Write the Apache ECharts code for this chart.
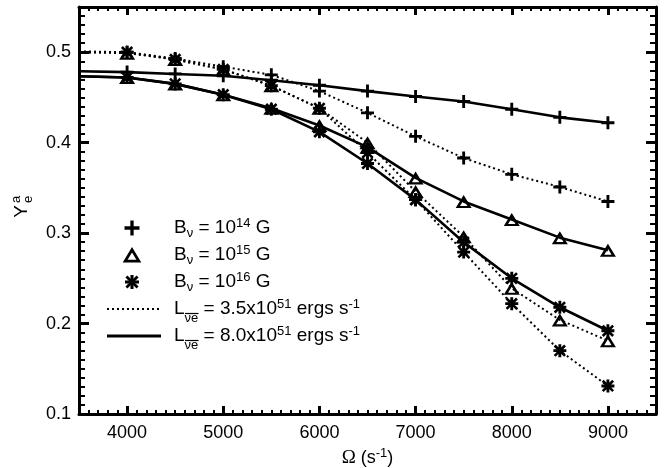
<!DOCTYPE html>
<html>
<head>
<meta charset="utf-8">
<script src="https://cdn.jsdelivr.net/npm/echarts@6/dist/echarts.min.js"></script>
<style>
  html, body { margin: 0; padding: 0; background: #fff; }
  #chart { width: 665px; height: 468px; }
</style>
</head>
<body>
<div id="chart"></div>
<script>
// Rotation rate Omega (s^-1); the first entry only anchors the line at the frame edge
const omega = [3500, 4000, 4500, 5000, 5500, 6000, 6500, 7000, 7500, 8000, 8500, 9000];

// Asymptotic electron fraction, L = 3.5e51 erg/s (dotted)
const plusLowL = [0.501, 0.500, 0.493, 0.484, 0.475, 0.457, 0.433, 0.407, 0.383, 0.365, 0.351, 0.335];
const triLowL  = [0.500, 0.499, 0.492, 0.481, 0.463, 0.438, 0.400, 0.346, 0.296, 0.239, 0.204, 0.181];
const astLowL  = [0.500, 0.500, 0.492, 0.481, 0.463, 0.438, 0.389, 0.337, 0.279, 0.222, 0.170, 0.131];

// Asymptotic electron fraction, L = 8.0e51 erg/s (solid)
const plusHighL = [0.479, 0.478, 0.476, 0.474, 0.469, 0.4635, 0.457, 0.451, 0.4455, 0.437, 0.428, 0.422];
const triHighL  = [0.4735, 0.472, 0.465, 0.453, 0.438, 0.419, 0.395, 0.361, 0.335, 0.315, 0.295, 0.281];
const astHighL  = [0.4735, 0.472, 0.465, 0.453, 0.437, 0.412, 0.377, 0.337, 0.290, 0.250, 0.218, 0.192];

const FONT = 'Liberation Sans, Arial, Helvetica, sans-serif';

// Marker outlines (unit box 0..100)
const PLUS_PATH = 'M39,0 L61,0 L61,39 L100,39 L100,61 L61,61 L61,100 L39,100 L39,61 L0,61 L0,39 L39,39 Z';
const TRI_PATH = 'M50,0 L100,100 L0,100 Z M50,38 L27,84 L73,84 Z';
const AST_PATH =
  'M0,39 L100,39 L100,61 L0,61 Z ' +
  'M61,0 L61,100 L39,100 L39,0 Z ' +
  'M17.1,3.0 L97.0,82.9 L82.9,97.0 L3.0,17.1 Z ' +
  'M97.0,17.1 L17.1,97.0 L3.0,82.9 L82.9,3.0 Z';

function pts(ys) {
  return omega.map((x, i) => i === 0 ? { value: [x, ys[i]], symbol: 'none' } : [x, ys[i]]);
}

function lineSeries(ys, path, size, dotted) {
  return {
    type: 'line',
    xAxisIndex: 0,
    yAxisIndex: 0,
    data: pts(ys),
    symbol: 'path://' + path,
    symbolSize: size,
    showSymbol: true,
    silent: true,
    itemStyle: { color: '#000' },
    lineStyle: dotted
      ? { color: '#000', width: 2, type: [2, 3] }
      : { color: '#000', width: 2.6, type: 'solid' },
    emphasis: { disabled: true }
  };
}

const black = '#000';
const plotRect = { left: 79, top: 7, width: 577, height: 407, outerBoundsMode: 'none' };

// Grid 0 carries the frame, major ticks and labels; grid 1 (same box) carries the minor ticks
function xMajor(pos, labels) {
  return {
    type: 'value', gridIndex: 0, position: pos, min: 3500, max: 9500,
    splitNumber: 6, minInterval: 1000, maxInterval: 1000,
    axisLine: { show: true, onZero: false, lineStyle: { color: black, width: 3 } },
    axisTick: { show: true, inside: true, length: 8, lineStyle: { color: black, width: 3 } },
    axisLabel: labels
      ? { show: true, margin: 10, fontSize: 18, fontFamily: FONT, color: black,
          formatter: v => (Math.round(v) % 1000 === 0 ? String(Math.round(v)) : '') }
      : { show: false },
    splitLine: { show: false }
  };
}
function xMinor(pos) {
  return {
    type: 'value', gridIndex: 1, position: pos, min: 3500, max: 9500, interval: 100,
    axisLine: { show: false, onZero: false },
    axisTick: { show: true, inside: true, length: 4, lineStyle: { color: black, width: 2 } },
    axisLabel: { show: false },
    splitLine: { show: false }
  };
}
function yMajor(pos, labels) {
  return {
    type: 'value', gridIndex: 0, position: pos, min: 0.1, max: 0.55, interval: 0.1,
    axisLine: { show: true, onZero: false, lineStyle: { color: black, width: 3 } },
    axisTick: { show: true, inside: true, length: 10, lineStyle: { color: black, width: 3 } },
    axisLabel: labels
      ? { show: true, margin: 8, fontSize: 18, fontFamily: FONT, color: black,
          formatter: v => (Math.abs(v * 10 - Math.round(v * 10)) < 1e-6 ? String(+v.toFixed(1)) : '') }
      : { show: false },
    splitLine: { show: false }
  };
}
function yMinor(pos) {
  return {
    type: 'value', gridIndex: 1, position: pos, min: 0.1, max: 0.55, interval: 0.01,
    axisLine: { show: false, onZero: false },
    axisTick: { show: true, inside: true, length: 6, lineStyle: { color: black, width: 2 } },
    axisLabel: { show: false },
    splitLine: { show: false }
  };
}

const xMain = xMajor('bottom', true);
xMain.name = '{o|Ω}{t| (s}{sup|-1}{t|)}';
xMain.nameLocation = 'middle';
xMain.nameGap = 18;
xMain.nameTextStyle = {
  rich: {
    o: { fontFamily: 'Liberation Serif, serif', fontSize: 19, color: black, lineHeight: 20 },
    t: { fontFamily: FONT, fontSize: 18, color: black, lineHeight: 20 },
    sup: { fontFamily: FONT, fontSize: 13, color: black, lineHeight: 13, padding: [0, 0, 10, 0] }
  }
};

// Rich text styles for the key
const keyRich = {
  b: { fontFamily: FONT, fontSize: 19, lineHeight: 20, fill: black },
  sup: { fontFamily: FONT, fontSize: 13, lineHeight: 13, padding: [0, 0, 10, 0], fill: black },
  sub: { fontFamily: FONT, fontSize: 13, lineHeight: 13, padding: [10, 0, 0, 0], fill: black },
  subL: { fontFamily: FONT, fontSize: 13, lineHeight: 13, padding: [19, 0, 0, 0], fill: black }
};

const keyX = 132, keyTextX = 174;
const rowY = [228, 255, 282, 309, 336];

function keyText(y, text) {
  return { type: 'text', x: keyTextX, y: y, silent: true,
           style: { text: text, rich: keyRich, align: 'left', verticalAlign: 'middle' } };
}

// Turn an M/L/Z outline into filled polygons placed in a w x h box centred on (cx, cy)
function keyShape(path, cx, cy, w, h) {
  const rings = path.split('M').filter(s => s.trim()).map(s =>
    s.replace(/Z/g, '').trim().split(/\s*L\s*/).map(p => {
      const [px, py] = p.split(',').map(Number);
      return [cx - w / 2 + px * w / 100, cy - h / 2 + py * h / 100];
    }));
  return { type: 'group', silent: true,
           children: rings.map(r => ({ type: 'polygon', shape: { points: r }, style: { fill: black } })) };
}
function keyTriangle(cx, cy, w, h, lw) {
  const t = lw / 2;
  return { type: 'polygon', silent: true,
           shape: { points: [[cx, cy - h / 2 + t * 1.6], [cx + w / 2 - t * 1.2, cy + h / 2 - t], [cx - w / 2 + t * 1.2, cy + h / 2 - t]] },
           style: { fill: null, stroke: black, lineWidth: lw, lineJoin: 'miter' } };
}

const graphic = [
  keyShape(PLUS_PATH, keyX, rowY[0], 15, 15),
  keyTriangle(keyX, rowY[1], 17, 15, 2.8),
  keyShape(AST_PATH, keyX, rowY[2], 14, 14),
  { type: 'line', silent: true, shape: { x1: 107, y1: rowY[3], x2: 161, y2: rowY[3] },
    style: { stroke: black, lineWidth: 2, lineDash: [2, 3] } },
  { type: 'line', silent: true, shape: { x1: 107, y1: rowY[4], x2: 161, y2: rowY[4] },
    style: { stroke: black, lineWidth: 3 } },
  keyText(rowY[0], '{b|B}{sub|ν}{b| = 10}{sup|14}{b| G}'),
  keyText(rowY[1], '{b|B}{sub|ν}{b| = 10}{sup|15}{b| G}'),
  keyText(rowY[2], '{b|B}{sub|ν}{b| = 10}{sup|16}{b| G}'),
  keyText(rowY[3], '{b|L}{subL|νe}{b| = 3.5x10}{sup|51}{b| ergs s}{sup|-1}'),
  keyText(rowY[4], '{b|L}{subL|νe}{b| = 8.0x10}{sup|51}{b| ergs s}{sup|-1}'),
  // bars over the antineutrino subscript
  { type: 'line', silent: true, shape: { x1: 185, y1: rowY[3] + 4.5, x2: 198.5, y2: rowY[3] + 4.5 },
    style: { stroke: black, lineWidth: 1.2 } },
  { type: 'line', silent: true, shape: { x1: 185, y1: rowY[4] + 4.5, x2: 198.5, y2: rowY[4] + 4.5 },
    style: { stroke: black, lineWidth: 1.2 } },
  // vertical axis title Y_e^a
  { type: 'group', x: 22, y: 208, rotation: Math.PI / 2, silent: true, children: [
    { type: 'text', x: -3.5, y: 0, style: { text: 'Y', fontFamily: FONT, fontSize: 19, fill: black, align: 'center', verticalAlign: 'middle' } },
    { type: 'text', x: 8.5, y: 6, style: { text: 'e', fontFamily: FONT, fontSize: 13, fill: black, align: 'center', verticalAlign: 'middle' } },
    { type: 'text', x: 8.5, y: -6, style: { text: 'a', fontFamily: FONT, fontSize: 13, fill: black, align: 'center', verticalAlign: 'middle' } }
  ] }
];

const chart = echarts.init(document.getElementById('chart'), null, { renderer: 'canvas' });
chart.setOption({
  animation: false,
  backgroundColor: '#fff',
  grid: [Object.assign({}, plotRect), Object.assign({}, plotRect)],
  xAxis: [xMain, xMajor('top', false), xMinor('bottom'), xMinor('top')],
  yAxis: [yMajor('left', true), yMajor('right', false), yMinor('left'), yMinor('right')],
  series: [
    lineSeries(plusLowL, PLUS_PATH, [13, 13], true),
    lineSeries(triLowL, TRI_PATH, [16, 13], true),
    lineSeries(astLowL, AST_PATH, [13, 13], true),
    lineSeries(plusHighL, PLUS_PATH, [13, 13], false),
    lineSeries(triHighL, TRI_PATH, [16, 13], false),
    lineSeries(astHighL, AST_PATH, [13, 13], false)
  ],
  graphic: graphic
});
</script>
</body>
</html>
